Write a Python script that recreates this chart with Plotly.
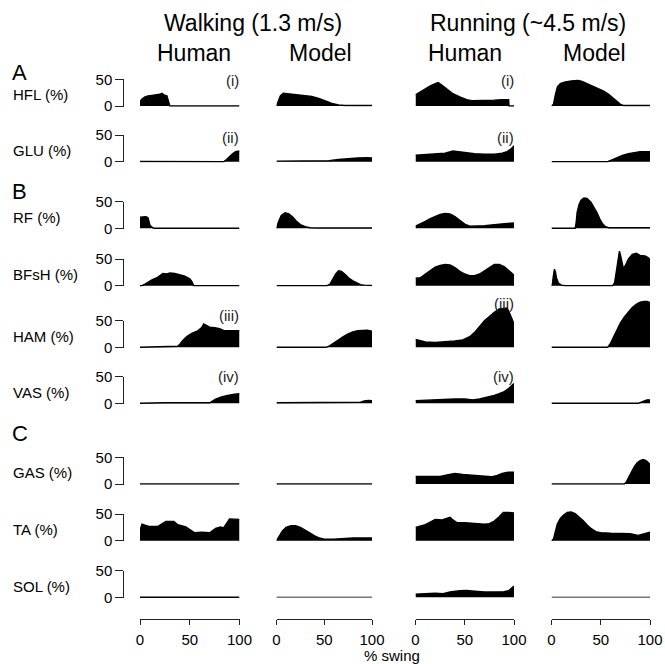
import plotly.graph_objects as go

# ---------------- data: (% swing, activation %) ----------------
HFL_WALK_HUMAN = [(0, 8), (2, 13), (5, 17), (8, 19), (12, 20), (17, 21), (20, 22), (22, 24), (24, 21), (27, 19), (28, 12), (29, 3), (30, 0), (100, 0)]
HFL_WALK_MODEL = [(0, 0), (2, 10), (4, 19), (7, 24), (12, 23), (20, 21), (30, 20), (37, 18), (45, 14), (52, 9), (58, 5), (65, 2), (72, 1), (100, 1)]
HFL_RUN_HUMAN = [(0, 21), (5, 27), (10, 33), (15, 38), (20, 42), (23, 44), (27, 39), (32, 31), (38, 23), (45, 17), (52, 12), (57, 10), (63, 10), (70, 11), (80, 11), (88, 12), (94.5, 12), (95, 0), (100, 0)]
HFL_RUN_MODEL = [(0, 0), (2, 3), (4, 22), (6, 36), (9, 42), (13, 45), (20, 47), (27, 48), (31, 46), (36, 42), (42, 38), (48, 33), (53, 28), (58, 22), (62, 16), (66, 9), (70, 3), (73, 1), (100, 1)]

GLU_WALK_HUMAN = [(0, 0.5), (33, 0.5), (34, 0), (84, 0), (87, 4), (90, 10), (93, 15), (96, 19), (100, 20)]
GLU_WALK_MODEL = [(0, 1), (50, 1), (55, 2), (65, 4), (75, 6), (85, 7), (95, 7.5), (100, 7)]
GLU_RUN_HUMAN = [(0, 12), (10, 13), (20, 14), (30, 16), (38, 20), (42, 19), (50, 17), (60, 15), (70, 14), (80, 14), (88, 16), (93, 19), (97, 24), (100, 30)]
GLU_RUN_MODEL = [(0, 0), (57, 0), (62, 4), (67, 8), (72, 12), (78, 15), (85, 18), (90, 19), (100, 19)]

RF_WALK_HUMAN = [(0, 21), (3, 21), (6, 22), (8, 20), (9, 12), (10, 6), (12, 2), (14, 0), (100, 0)]
RF_WALK_MODEL = [(0, 0), (2, 12), (5, 24), (9, 29), (13, 27), (17, 21), (21, 13), (25, 7), (30, 3), (35, 1), (45, 0.5), (100, 0.5)]
RF_RUN_HUMAN = [(0, 4), (5, 8), (10, 13), (15, 18), (20, 22), (25, 26), (30, 28), (35, 27), (40, 22), (45, 15), (50, 8), (55, 4), (60, 4), (70, 5), (80, 7), (90, 8), (100, 10)]
RF_RUN_MODEL = [(0, 0), (24, 0), (25, 10), (26, 30), (28, 45), (30, 53), (33, 57), (36, 56), (40, 49), (43, 40), (46, 30), (49, 18), (52, 8), (55, 3), (58, 1), (100, 1)]

BFSH_WALK_HUMAN = [(0, 0), (2, 0), (5, 3), (8, 7), (12, 11), (17, 15), (20, 19), (23, 23), (27, 22), (30, 24), (35, 23), (40, 21), (45, 18), (50, 13), (52, 8), (54, 0), (100, 0)]
BFSH_WALK_MODEL = [(0, 0), (53, 0), (56, 3), (59, 12), (62, 22), (65, 28), (68, 27), (72, 21), (76, 14), (80, 9), (84, 5), (88, 2), (92, 1), (100, 0.5)]
BFSH_RUN_HUMAN = [(0, 14), (5, 15), (10, 22), (15, 29), (20, 35), (25, 38), (30, 40), (35, 39), (40, 34), (45, 27), (50, 22), (55, 19), (60, 19), (65, 22), (70, 28), (75, 35), (80, 40), (85, 40), (90, 36), (95, 28), (100, 20)]
BFSH_RUN_MODEL = [(0, 0), (1, 5), (2, 20), (3, 31), (4, 26), (5, 15), (7, 5), (10, 1), (14, 0), (62, 0), (64, 5), (66, 30), (68, 60), (69, 65), (70, 58), (72, 40), (73, 32), (75, 38), (78, 50), (82, 59), (86, 61), (90, 57), (95, 56), (98, 53), (100, 49)]

HAM_WALK_HUMAN = [(0, 0), (20, 1), (38, 2), (40, 6), (43, 13), (47, 20), (52, 26), (58, 31), (62, 37), (64, 44), (66, 42), (70, 38), (75, 37), (80, 35), (85, 31), (100, 31)]
HAM_WALK_MODEL = [(0, 0), (52, 0), (56, 3), (60, 8), (65, 14), (70, 20), (75, 25), (80, 29), (85, 31), (90, 32), (95, 32), (100, 30)]
HAM_RUN_HUMAN = [(0, 15), (5, 12), (10, 10), (20, 9), (30, 10), (40, 12), (48, 14), (55, 20), (60, 28), (65, 40), (70, 50), (75, 58), (80, 66), (85, 72), (90, 74), (93, 74), (96, 62), (100, 44)]
HAM_RUN_MODEL = [(0, 0), (57, 0), (60, 8), (63, 20), (66, 32), (70, 46), (74, 57), (78, 67), (82, 75), (86, 81), (90, 85), (94, 86), (97, 86), (100, 84)]

VAS_WALK_HUMAN = [(0, 0), (25, 1), (70, 1), (72, 3), (76, 8), (82, 12), (88, 15), (95, 17), (100, 18)]
VAS_WALK_MODEL = [(0, 1), (85, 1), (88, 2), (92, 4.5), (96, 5.5), (100, 5)]
VAS_RUN_HUMAN = [(0, 5), (10, 6), (20, 7), (30, 7.5), (40, 8), (50, 8), (58, 6.5), (65, 8), (72, 11), (80, 15), (85, 18), (90, 22), (94, 27), (97, 32), (100, 37)]
VAS_RUN_MODEL = [(0, 0), (88, 0), (91, 2), (94, 5), (97, 6.5), (100, 6.5)]

GAS_WALK_HUMAN = [(0, 0), (100, 0)]
GAS_WALK_MODEL = [(0, 0), (100, 0)]
GAS_RUN_HUMAN = [(0, 14), (10, 14), (25, 14), (32, 17), (40, 20), (48, 18), (57, 16), (67, 15), (77, 13.5), (83, 16), (88, 20), (94, 22), (100, 22)]
GAS_RUN_MODEL = [(0, 0), (74, 0), (76, 4), (78, 12), (81, 22), (84, 32), (87, 40), (90, 44), (93, 46), (96, 44), (98, 41), (100, 37)]

TA_WALK_HUMAN = [(0, 20), (2, 31), (5, 29), (9, 27), (18, 27), (22, 32), (26, 36), (34, 36), (38, 30), (46, 26), (50, 21), (55, 15), (62, 16), (67, 16), (70, 15), (76, 23), (81, 26), (84, 24), (87, 32), (90, 41), (100, 40)]
TA_WALK_MODEL = [(0, 0), (3, 9), (6, 18), (10, 25), (15, 28), (20, 28), (25, 25), (30, 20), (35, 14), (40, 9), (45, 5), (50, 3), (60, 3), (70, 4), (80, 5), (100, 5)]
TA_RUN_HUMAN = [(0, 25), (5, 27), (10, 30), (15, 35), (20, 40), (27, 39), (31, 42), (35, 44), (38, 39), (42, 34), (50, 34), (60, 33), (70, 31), (75, 32), (80, 37), (85, 45), (89, 53), (95, 53), (100, 52)]
TA_RUN_MODEL = [(0, 0), (2, 3), (4, 18), (6, 32), (9, 42), (12, 48), (16, 53), (20, 54), (24, 51), (28, 45), (32, 38), (36, 30), (40, 23), (45, 17), (50, 15), (60, 14), (70, 14), (80, 13), (88, 10), (92, 12), (96, 15), (100, 16)]

SOL_WALK_HUMAN = [(0, 0), (100, 0)]
SOL_WALK_MODEL = [(0, 0), (100, 0)]
SOL_RUN_HUMAN = [(0, 6), (10, 7), (20, 7.5), (28, 7), (35, 10), (45, 12.5), (52, 13), (60, 11.5), (70, 10), (80, 10), (90, 10.5), (95, 13), (98, 17), (100, 21)]
SOL_RUN_MODEL = [(0, 0), (100, 0)]

MUSCLES = ["HFL", "GLU", "RF", "BFsH", "HAM", "VAS", "GAS", "TA", "SOL"]
PANELS = [
    [HFL_WALK_HUMAN, HFL_WALK_MODEL, HFL_RUN_HUMAN, HFL_RUN_MODEL],
    [GLU_WALK_HUMAN, GLU_WALK_MODEL, GLU_RUN_HUMAN, GLU_RUN_MODEL],
    [RF_WALK_HUMAN, RF_WALK_MODEL, RF_RUN_HUMAN, RF_RUN_MODEL],
    [BFSH_WALK_HUMAN, BFSH_WALK_MODEL, BFSH_RUN_HUMAN, BFSH_RUN_MODEL],
    [HAM_WALK_HUMAN, HAM_WALK_MODEL, HAM_RUN_HUMAN, HAM_RUN_MODEL],
    [VAS_WALK_HUMAN, VAS_WALK_MODEL, VAS_RUN_HUMAN, VAS_RUN_MODEL],
    [GAS_WALK_HUMAN, GAS_WALK_MODEL, GAS_RUN_HUMAN, GAS_RUN_MODEL],
    [TA_WALK_HUMAN, TA_WALK_MODEL, TA_RUN_HUMAN, TA_RUN_MODEL],
    [SOL_WALK_HUMAN, SOL_WALK_MODEL, SOL_RUN_HUMAN, SOL_RUN_MODEL],
]
COL_TITLES = ["Human", "Model", "Human", "Model"]
GROUP_TITLES = ["Walking (1.3 m/s)", "Running (~4.5 m/s)"]
SECTIONS = [("A", 72.5), ("B", 191.7), ("C", 433.7)]
MARKS = [("(i)", 0, 0), ("(i)", 0, 2), ("(ii)", 1, 0), ("(ii)", 1, 2),
         ("(iii)", 4, 0), ("(iii)", 4, 2), ("(iv)", 5, 0), ("(iv)", 5, 2)]
X_TICKS = [0, 50, 100]
Y_TICKS = [0, 50]

# ---------------- layout geometry (pixels) ----------------
W, H = 665, 664
PPU = 0.532  # pixels per activation unit
BASE = [106, 161.7, 228.3, 285.7, 347.3, 403.3, 484, 540.7, 597.3]
COLS = [(140, 239.5), (276.5, 372), (415.5, 514), (551.5, 650)]
COL_TITLE_X = [194, 320, 465, 594]
GROUP_TITLE_X = [253, 528]
YMIN = -1.5
AX = "#222222"
FONT = "Liberation Sans, Arial, sans-serif"
MARK_Y = {(0, 0): 81, (0, 2): 81, (1, 0): 137.5, (1, 2): 137.5,
          (4, 0): 316, (4, 2): 304, (5, 0): 376, (5, 2): 376}
MARK_X = [241, None, 516, None]
GRAY_BASELINE = {(8, 1), (8, 3)}


def fx(px):
    return px / W


def fy(py):
    return 1 - py / H


fig = go.Figure()
layout = {}
for r, muscle in enumerate(MUSCLES):
    for c in range(4):
        k = r * 4 + c + 1
        s = "" if k == 1 else str(k)
        pts = PANELS[r][c]
        lc = "#777777" if (r, c) in GRAY_BASELINE else "black"
        fig.add_trace(go.Scatter(
            x=[p[0] for p in pts], y=[p[1] for p in pts],
            xaxis="x" + s, yaxis="y" + s, mode="lines",
            fill="tozeroy", fillcolor="black",
            line=dict(color=lc, width=1.4),
            hoverinfo="skip", showlegend=False))
        ymax = 50 if c == 0 else 100
        xa = dict(domain=[fx(COLS[c][0]), fx(COLS[c][1])], range=[0, 100],
                  anchor="y" + s, visible=False, fixedrange=True,
                  automargin=False)
        if r == len(MUSCLES) - 1:
            xa.update(visible=True, anchor="free", position=fy(619),
                      showline=True, linecolor=AX, linewidth=1,
                      ticks="outside", ticklen=5, tickwidth=1, tickcolor=AX,
                      tickvals=X_TICKS, showgrid=False, zeroline=False,
                      ticklabelstandoff=2,
                      tickfont=dict(size=15, color="black", family=FONT))
        ya = dict(domain=[fy(BASE[r] - YMIN * PPU), fy(BASE[r] - ymax * PPU)],
                  range=[YMIN, ymax], anchor="x" + s, visible=False,
                  fixedrange=True, automargin=False)
        if c == 0:
            ya.update(visible=True, anchor="free", position=fx(123.3),
                      showline=True, linecolor=AX, linewidth=1,
                      ticks="outside", ticklen=8, tickwidth=1, tickcolor=AX,
                      tickvals=Y_TICKS, showgrid=False, zeroline=False,
                      tickfont=dict(size=15, color="black", family=FONT))
        layout["xaxis" + s] = xa
        layout["yaxis" + s] = ya

ann = []
for r, muscle in enumerate(MUSCLES):
    ann.append(dict(text=muscle + " (%)", xref="paper", yref="paper",
                    x=fx(11), y=fy(BASE[r] - 25 * PPU + 2),
                    xanchor="left", yanchor="middle", showarrow=False,
                    font=dict(size=15, color="black", family=FONT)))
for lab, ypx in SECTIONS:
    ann.append(dict(text=lab, xref="paper", yref="paper", x=fx(10), y=fy(ypx),
                    xanchor="left", yanchor="middle", showarrow=False,
                    font=dict(size=22, color="black", family=FONT)))
for c, t in enumerate(COL_TITLES):
    ann.append(dict(text=t, xref="paper", yref="paper", x=fx(COL_TITLE_X[c]),
                    y=fy(53), xanchor="center", yanchor="middle",
                    showarrow=False,
                    font=dict(size=23, color="black", family=FONT)))
for g, t in enumerate(GROUP_TITLES):
    ann.append(dict(text=t, xref="paper", yref="paper", x=fx(GROUP_TITLE_X[g]),
                    y=fy(23), xanchor="center", yanchor="middle",
                    showarrow=False,
                    font=dict(size=23, color="black", family=FONT)))
for t, r, c in MARKS:
    ann.append(dict(text=t, xref="paper", yref="paper", x=fx(MARK_X[c]),
                    y=fy(MARK_Y[(r, c)]), xanchor="right", yanchor="middle",
                    showarrow=False,
                    font=dict(size=15, color="#222222", family=FONT)))
ann.append(dict(text="% swing", xref="paper", yref="paper", x=fx(392),
                y=fy(655), xanchor="center", yanchor="middle", showarrow=False,
                font=dict(size=15, color="black", family=FONT)))

fig.update_layout(
    template="none",
    width=W, height=H,
    margin=dict(l=0, r=0, t=0, b=0, pad=0, autoexpand=False),
    paper_bgcolor="white", plot_bgcolor="rgba(0,0,0,0)",
    showlegend=False, annotations=ann,
    font=dict(family=FONT, color="black"), **layout)

fig.write_html(
    "out.html",
    config={"displayModeBar": False, "staticPlot": True},
    post_script="document.body.style.margin='0';document.body.style.padding='0';"
                "document.documentElement.style.overflow='hidden';")
